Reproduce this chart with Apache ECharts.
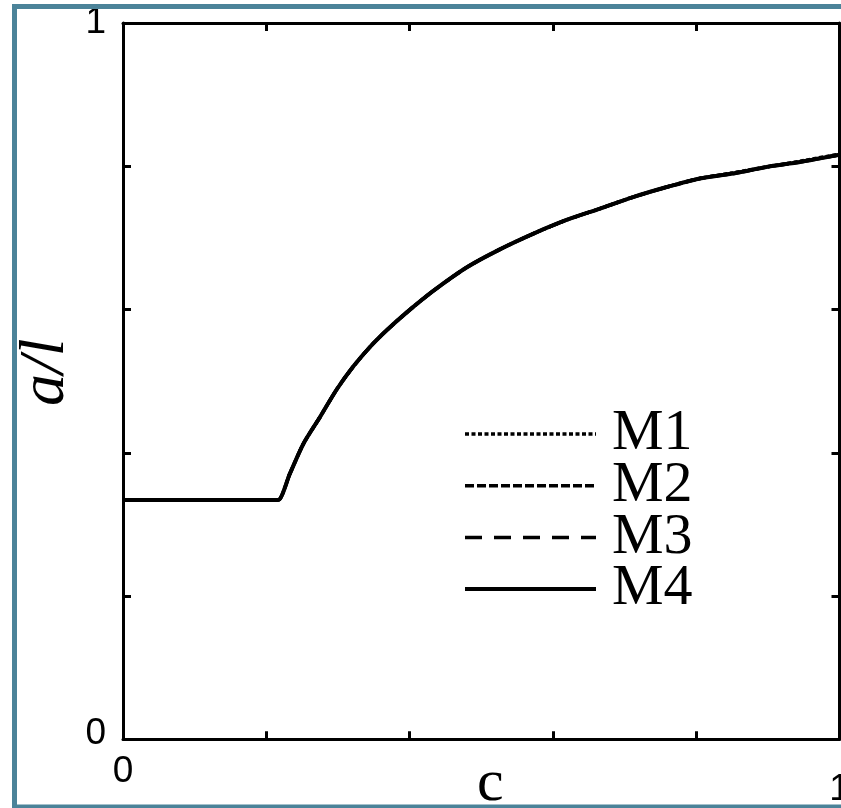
<!DOCTYPE html>
<html>
<head>
<meta charset="utf-8">
<script src="https://cdn.jsdelivr.net/npm/echarts@6/dist/echarts.min.js"></script>
<style>
  html, body { margin: 0; padding: 0; background: #fff; }
  #chart { width: 841px; height: 808px; }
</style>
</head>
<body>
<div id="chart"></div>
<script>
// c values (shared abscissa of all four models)
const cValues = [0, 0.2, 0.21, 0.2167, 0.233, 0.252, 0.275, 0.298, 0.321, 0.345, 0.368, 0.396, 0.433,
                 0.480, 0.526, 0.573, 0.619, 0.666, 0.712, 0.759, 0.805, 0.852, 0.898, 0.945, 1.0];

// a/l for each model
const m1 = [0.334, 0.334, 0.334, 0.334, 0.371, 0.413, 0.450, 0.488, 0.520, 0.548, 0.571, 0.596, 0.626,
            0.659, 0.684, 0.706, 0.725, 0.741, 0.757, 0.771, 0.783, 0.791, 0.799, 0.807, 0.817];
const m2 = [0.334, 0.334, 0.334, 0.334, 0.371, 0.413, 0.450, 0.488, 0.520, 0.548, 0.571, 0.596, 0.626,
            0.659, 0.684, 0.706, 0.725, 0.741, 0.757, 0.771, 0.783, 0.790, 0.799, 0.806, 0.816];
const m3 = [0.334, 0.334, 0.334, 0.334, 0.371, 0.413, 0.450, 0.488, 0.520, 0.548, 0.571, 0.596, 0.626,
            0.659, 0.684, 0.706, 0.725, 0.741, 0.757, 0.771, 0.783, 0.790, 0.799, 0.806, 0.816];
const m4 = [0.334, 0.334, 0.334, 0.334, 0.371, 0.413, 0.450, 0.488, 0.520, 0.548, 0.571, 0.596, 0.626,
            0.659, 0.684, 0.706, 0.725, 0.741, 0.757, 0.771, 0.783, 0.790, 0.799, 0.806, 0.816];

const seriesNames = ['M1', 'M2', 'M3', 'M4'];

// only the ends of each axis carry a number
const xTickLabels = [0, 1];
const yTickLabels = [0, 1];

function pairs(ys) { return cValues.map((c, i) => [c, ys[i]]); }
function isIn(list, v) { return list.some(t => Math.abs(t - v) < 1e-9); }

const black = '#000';
const axisLine = { show: true, onZero: false, lineStyle: { color: black, width: 3 } };
const axisTick = { show: true, inside: true, length: 8, lineStyle: { color: black, width: 3 } };
const tickFont = { fontFamily: 'Liberation Sans', fontSize: 37, color: black };

const styles = [
  { type: [4, 2.5], width: 3.5 },
  { type: [9, 3], width: 3.5 },
  { type: [17, 12], width: 3.5 },
  { type: 'solid', width: 4 }
];
const data = [m1, m2, m3, m4];

const chart = echarts.init(document.getElementById('chart'), null, { renderer: 'canvas' });
chart.setOption({
  animation: false,
  backgroundColor: '#fff',
  grid: { left: 123, top: 23, width: 716.5, height: 716.3, containLabel: false, outerBoundsMode: 'none' },
  xAxis: [
    {
      type: 'value', min: 0, max: 1, interval: 0.2, position: 'bottom',
      axisLine, axisTick, splitLine: { show: false },
      axisLabel: Object.assign({
        formatter: v => (isIn(xTickLabels, v) ? (v > 0.5 ? '{lo|' + Math.round(v) + '}' : String(Math.round(v))) : ''),
        margin: 14, showMinLabel: true, showMaxLabel: true,
        rich: { lo: Object.assign({ padding: [18, 0, 0, 0] }, tickFont) }
      }, tickFont),
      name: 'c', nameLocation: 'middle', nameGap: 15, nameMoveOverlap: false,
      nameTextStyle: { fontFamily: 'Liberation Serif', fontSize: 60, color: black,
        padding: [0, 0, 0, 18], verticalAlign: 'top' }
    },
    {
      type: 'value', min: 0, max: 1, interval: 0.2, position: 'top',
      axisLine, axisTick, splitLine: { show: false }, axisLabel: { show: false }
    }
  ],
  yAxis: [
    {
      type: 'value', min: 0, max: 1, interval: 0.2, position: 'left',
      axisLine, axisTick, splitLine: { show: false },
      axisLabel: Object.assign({
        formatter: v => (isIn(yTickLabels, v) ? (v < 0.5 ? '{up|' + Math.round(v) + '}' : String(Math.round(v))) : ''),
        margin: 17, showMinLabel: true, showMaxLabel: true,
        rich: { up: Object.assign({ padding: [0, 0, 12, 0] }, tickFont) }
      }, tickFont),
      name: 'a/l', nameLocation: 'middle', nameGap: 45, nameRotate: 90, nameMoveOverlap: false,
      nameTextStyle: { fontFamily: 'Liberation Serif', fontStyle: 'italic', fontSize: 64,
        color: black, padding: [0, 0, 0, 18] }
    },
    {
      type: 'value', min: 0, max: 1, interval: 0.2, position: 'right',
      axisLine, axisTick, splitLine: { show: false }, axisLabel: { show: false }
    }
  ],
  legend: {
    orient: 'vertical', left: 463, top: 405, padding: 0,
    itemWidth: 131, itemHeight: 4, itemGap: -6.3,
    itemStyle: { color: 'rgba(0,0,0,0)', borderWidth: 0 },
    textStyle: { fontFamily: 'Liberation Serif', fontSize: 58, color: black,
      padding: [0, 0, 0, 11] },
    data: seriesNames.map((name, k) => ({
      name,
      lineStyle: { color: black, width: styles[k].width, type: styles[k].type }
    }))
  },
  graphic: [{
    type: 'rect', silent: true, z: 100,
    shape: { x: 14.5, y: 6.5, width: 900, height: 800.5 },
    style: { fill: 'none', stroke: '#4b8399', lineWidth: 5 }
  }],
  series: seriesNames.map((name, k) => ({
    name, type: 'line', xAxisIndex: 0, yAxisIndex: 0,
    data: pairs(data[k]), showSymbol: false, symbol: 'none',
    smooth: 0.25,
    lineStyle: { color: black, width: styles[k].width, type: styles[k].type },
    itemStyle: { color: black },
    z: 2 + k
  }))
});
</script>
</body>
</html>
